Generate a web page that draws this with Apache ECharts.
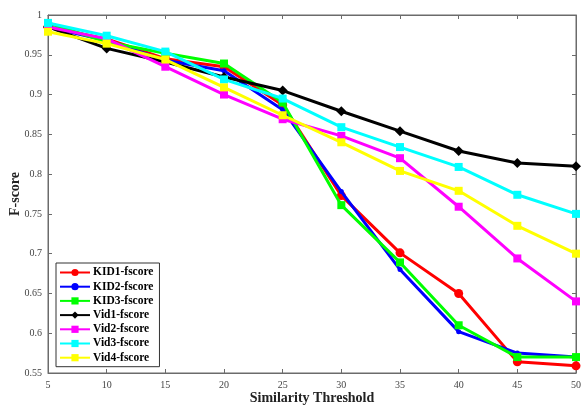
<!DOCTYPE html>
<html>
<head>
<meta charset="utf-8">
<script src="https://cdn.jsdelivr.net/npm/echarts@6/dist/echarts.min.js"></script>
<style>
  html, body { margin: 0; padding: 0; background: #fff; }
  #chart { width: 582px; height: 409px; }
</style>
</head>
<body>
<div id="chart"></div>
<script>
// Similarity thresholds on the x axis
const thresholds = [5, 10, 15, 20, 25, 30, 35, 40, 45, 50];

// F-score per dataset
const kid1 = [0.985, 0.970, 0.945, 0.935, 0.887, 0.773, 0.701, 0.650, 0.564, 0.559];
const kid2 = [0.985, 0.968, 0.943, 0.930, 0.881, 0.778, 0.680, 0.602, 0.575, 0.570];
const kid3 = [0.990, 0.966, 0.952, 0.939, 0.890, 0.761, 0.689, 0.610, 0.570, 0.570];
const vid1 = [0.985, 0.958, 0.941, 0.922, 0.905, 0.879, 0.854, 0.829, 0.814, 0.810];
const vid2 = [0.985, 0.970, 0.935, 0.900, 0.869, 0.848, 0.820, 0.759, 0.694, 0.640];
const vid3 = [0.990, 0.974, 0.954, 0.919, 0.895, 0.859, 0.834, 0.809, 0.774, 0.750];
const vid4 = [0.979, 0.964, 0.944, 0.909, 0.874, 0.840, 0.804, 0.779, 0.735, 0.700];

const seriesNames = ['KID1-fscore', 'KID2-fscore', 'KID3-fscore', 'Vid1-fscore', 'Vid2-fscore', 'Vid3-fscore', 'Vid4-fscore'];
const seriesData = [kid1, kid2, kid3, vid1, vid2, vid3, vid4];
const colors = ['#ff0000', '#0000ff', '#00ff00', '#000000', '#ff00ff', '#00ffff', '#ffff00'];
const symbols = ['circle', 'circle', 'rect', 'diamond', 'rect', 'rect', 'rect'];
const symbolSizes = [9, 5, 8, 10, 8, 8, 8];

const font = '"Liberation Serif", "Times New Roman", serif';
const axisColor = '#6b6b6b';

const chart = echarts.init(document.getElementById('chart'));

const series = seriesNames.map((name, i) => ({
  name: name,
  type: 'line',
  data: thresholds.map((t, j) => [t, seriesData[i][j]]),
  symbol: symbols[i],
  symbolSize: symbolSizes[i],
  showAllSymbol: true,
  lineStyle: { color: colors[i], width: 3 },
  itemStyle: { color: colors[i] },
  z: 2 + i
}));

const tickLabel = { color: '#444', fontFamily: font, fontSize: 10 };

chart.setOption({
  animation: false,
  backgroundColor: '#ffffff',
  grid: {
    left: 48, right: 6, top: 15, bottom: 36,
    outerBoundsMode: 'none', containLabel: false,
    show: true, borderColor: axisColor, borderWidth: 1
  },
  legend: {
    orient: 'vertical',
    left: 56,
    top: 263,
    data: seriesNames,
    itemWidth: 30,
    itemHeight: 9,
    itemGap: 2.2,
    padding: [3.5, 6, 3, 3],
    backgroundColor: '#ffffff',
    borderColor: '#333',
    borderWidth: 1,
    textStyle: { fontFamily: font, fontWeight: 'bold', fontSize: 11.5, lineHeight: 12, color: '#000', padding: [0, 0, 0, -2] }
  },
  xAxis: [
    {
      type: 'value', min: 5, max: 50, interval: 5,
      name: 'Similarity Threshold', nameLocation: 'middle', nameGap: 18,
      nameMoveOverlap: false,
      nameTextStyle: { fontFamily: font, fontWeight: 'bold', fontSize: 14, color: '#222' },
      axisLine: { show: true, lineStyle: { color: axisColor } },
      axisTick: { show: true, inside: true, length: 4, lineStyle: { color: axisColor } },
      axisLabel: Object.assign({ margin: 7 }, tickLabel),
      splitLine: { show: false }
    },
    {
      type: 'value', position: 'top', min: 5, max: 50, interval: 5,
      axisLine: { show: true, lineStyle: { color: axisColor } },
      axisTick: { show: true, inside: true, length: 4, lineStyle: { color: axisColor } },
      axisLabel: { show: false },
      splitLine: { show: false }
    }
  ],
  yAxis: [
    {
      type: 'value', min: 0.55, max: 1, interval: 0.05,
      name: 'F-score', nameLocation: 'middle', nameGap: 26,
      nameMoveOverlap: false,
      nameTextStyle: { fontFamily: font, fontWeight: 'bold', fontSize: 14, color: '#222' },
      axisLine: { show: true, lineStyle: { color: axisColor } },
      axisTick: { show: true, inside: true, length: 4, lineStyle: { color: axisColor } },
      axisLabel: Object.assign({ margin: 6, formatter: v => String(+v.toFixed(2)) }, tickLabel),
      splitLine: { show: false }
    },
    {
      type: 'value', position: 'right', min: 0.55, max: 1, interval: 0.05,
      axisLine: { show: true, lineStyle: { color: axisColor } },
      axisTick: { show: true, inside: true, length: 4, lineStyle: { color: axisColor } },
      axisLabel: { show: false },
      splitLine: { show: false }
    }
  ],
  series: series
});
</script>
</body>
</html>
